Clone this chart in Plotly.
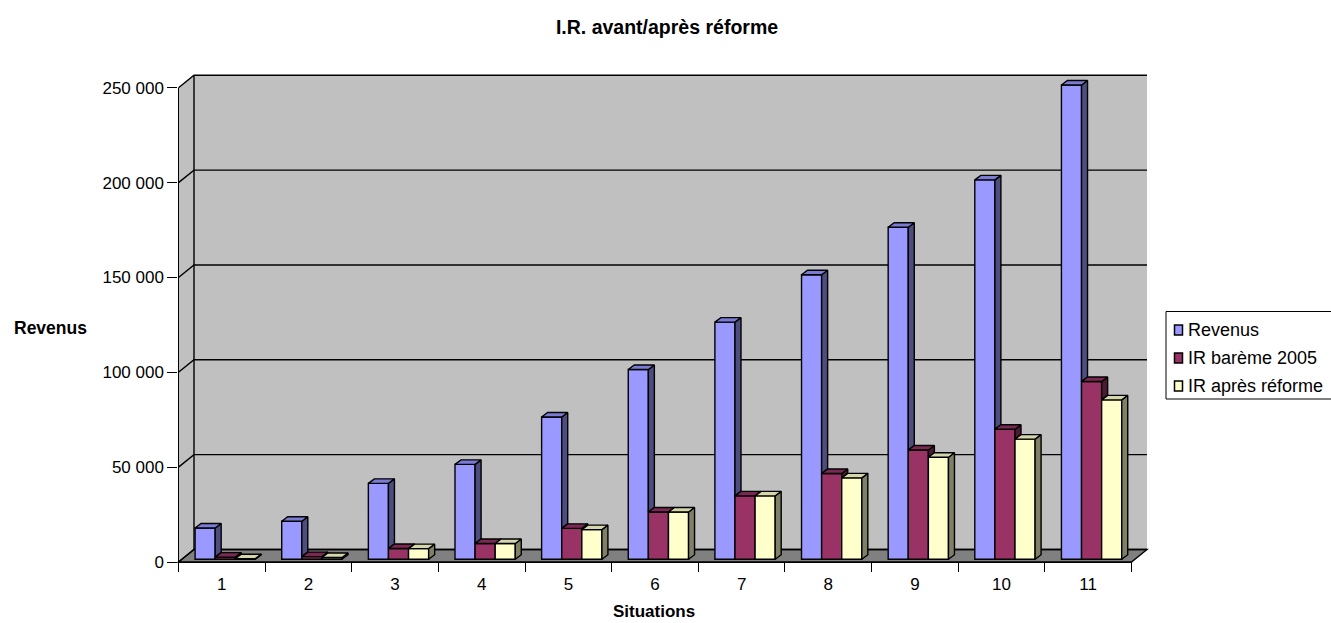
import plotly.graph_objects as go

# ---------------- data ----------------
situations = ["1", "2", "3", "4", "5", "6", "7", "8", "9", "10", "11"]
revenus = [16500, 20000, 40000, 50000, 75000, 100000, 125000, 150000, 175000, 200000, 250000]
ir_bareme_2005 = [1100, 1400, 5700, 8300, 16300, 24900, 33400, 45200, 57600, 68500, 93700]
ir_apres_reforme = [300, 900, 5600, 8300, 15600, 24900, 33400, 42900, 53800, 63300, 84000]
series_names = ["Revenus", "IR barème 2005", "IR après réforme"]
value_ticks = [0, 50000, 100000, 150000, 200000, 250000]

chart_title = "I.R. avant/après réforme"
x_title = "Situations"
y_title = "Revenus"

# ---------------- style ----------------
FONT = "Liberation Sans, Arial, sans-serif"
FRONT = ["#9999FF", "#993366", "#FFFFCC"]
TOP = ["#7B7BD6", "#7A2952", "#D6D6AB"]
SIDE = ["#4D4D80", "#4D1A33", "#808066"]
WALL = "#C0C0C0"
FLOOR = "#808080"
EDGE = 1.4

# ---------------- geometry (pixels) ----------------
W, H = 1331, 623
AX_X0, AX_X1 = 178.5, 1131.5          # front edge of the floor
AX_Y0 = 562.0                          # value 0 on the front axis
PX_PER_VAL = 1.897 / 1000
VMAX = value_ticks[-1]
DEPTH_DX, DEPTH_DY = 15.5, -12.5       # front edge -> back wall
BAR_PLANE = 0.22                       # depth fraction where bar fronts sit
BAR_DX, BAR_DY = 6.0, -4.5             # bar thickness in depth
BAR_W = 0.232                          # bar width in category units

n = len(situations)
CAT_PX = (AX_X1 - AX_X0) / n


def fx(xp):
    return xp / W


def fy(yp):
    return 1 - yp / H


def y_front(v):
    return AX_Y0 - v * PX_PER_VAL


def y_back(v):
    return y_front(v) + DEPTH_DY


# bar plane axes
bx_shift = BAR_PLANE * DEPTH_DX
by_shift = BAR_PLANE * DEPTH_DY
x_rng = [0.0, n + 1.0]
y_rng = [-20000, 270000]


def bar_x_px(u):
    return AX_X0 + bx_shift + (u - 0.5) * CAT_PX


def bar_y_px(v):
    return AX_Y0 + by_shift - v * PX_PER_VAL


fig = go.Figure()

series = [revenus, ir_bareme_2005, ir_apres_reforme]
xpos = list(range(1, n + 1))
offsets = [-1.5 * BAR_W, -0.5 * BAR_W, 0.5 * BAR_W]

# front faces
for k, vals in enumerate(series):
    fig.add_trace(go.Bar(
        x=xpos, y=vals, width=BAR_W, offset=offsets[k],
        name=series_names[k], showlegend=False,
        marker=dict(color=FRONT[k], line=dict(color="black", width=EDGE)),
        customdata=situations,
        hovertemplate="Situation %{customdata}<br>" + series_names[k] + " : %{y:,}<extra></extra>",
        xaxis="x", yaxis="y",
    ))

# top and side faces (oblique projection)
dxu = BAR_DX / CAT_PX
dyu = -BAR_DY / PX_PER_VAL
for k, vals in enumerate(series):
    tx, ty, sx, sy = [], [], [], []
    for i, v in enumerate(vals):
        x0 = xpos[i] + offsets[k]
        x1 = x0 + BAR_W
        tx += [x0, x1, x1 + dxu, x0 + dxu, x0, None]
        ty += [v, v, v + dyu, v + dyu, v, None]
        if k + 1 < len(series):
            low = series[k + 1][i]
            if low >= v:
                continue
        else:
            low = 0
        sx += [x1, x1, x1 + dxu, x1 + dxu, x1, None]
        sy += [low, v, v + dyu, low + dyu, low, None]
    fig.add_trace(go.Scatter(
        x=sx, y=sy, mode="lines", fill="toself", fillcolor=SIDE[k],
        line=dict(color="black", width=EDGE), hoverinfo="skip", showlegend=False,
        xaxis="x", yaxis="y",
    ))
    fig.add_trace(go.Scatter(
        x=tx, y=ty, mode="lines", fill="toself", fillcolor=TOP[k],
        line=dict(color="black", width=EDGE), hoverinfo="skip", showlegend=False,
        xaxis="x", yaxis="y",
    ))

# category axis carrier on the front axes
fig.add_trace(go.Scatter(
    x=situations, y=[0] * n, mode="markers", marker=dict(opacity=0),
    hoverinfo="skip", showlegend=False, xaxis="x2", yaxis="y2",
))

# ---------------- walls, floor and gridlines ----------------
shapes = []
bw0, bw1 = AX_X0 + DEPTH_DX, AX_X1 + DEPTH_DX


def path(points, close=True):
    d = "M " + " L ".join(f"{fx(a):.6f},{fy(b):.6f}" for a, b in points)
    return d + (" Z" if close else "")


shapes.append(dict(type="path", xref="paper", yref="paper", layer="below",
                   path=path([(bw0, y_back(0)), (bw1, y_back(0)), (bw1, y_back(VMAX)), (bw0, y_back(VMAX))]),
                   fillcolor=WALL, line=dict(width=0)))
shapes.append(dict(type="path", xref="paper", yref="paper", layer="below",
                   path=path([(AX_X0, y_front(0)), (AX_X0, y_front(VMAX)), (bw0, y_back(VMAX)), (bw0, y_back(0))]),
                   fillcolor=WALL, line=dict(width=0)))
shapes.append(dict(type="path", xref="paper", yref="paper", layer="below",
                   path=path([(AX_X0, y_front(0)), (AX_X1, y_front(0)), (bw1, y_back(0)), (bw0, y_back(0))]),
                   fillcolor=FLOOR, line=dict(color="black", width=EDGE)))
for t in value_ticks:
    shapes.append(dict(type="path", xref="paper", yref="paper", layer="below",
                       path=path([(AX_X0, y_front(t)), (bw0, y_back(t)), (bw1, y_back(t))], close=False),
                       line=dict(color="black", width=EDGE)))
shapes.append(dict(type="line", xref="paper", yref="paper", layer="below",
                   x0=fx(bw0), x1=fx(bw0), y0=fy(y_back(0)), y1=fy(y_back(VMAX)),
                   line=dict(color="black", width=EDGE)))

# ---------------- legend box ----------------
LEG_X0, LEG_Y0, LEG_Y1 = 1166, 311.5, 399
leg_rows = [330, 358, 386]
shapes.append(dict(type="rect", xref="paper", yref="paper",
                   x0=fx(LEG_X0), x1=fx(W + 10), y0=fy(LEG_Y1), y1=fy(LEG_Y0),
                   fillcolor="white", line=dict(color="black", width=1)))
annotations = []
for k, name in enumerate(series_names):
    yc = leg_rows[k]
    shapes.append(dict(type="rect", xref="paper", yref="paper",
                       x0=fx(1174.5), x1=fx(1182.5), y0=fy(yc + 5), y1=fy(yc - 5),
                       fillcolor=FRONT[k], line=dict(color="black", width=1.5)))
    annotations.append(dict(text=name, xref="paper", yref="paper", x=fx(1185.5), y=fy(yc),
                            xanchor="left", yanchor="middle", showarrow=False,
                            font=dict(family=FONT, size=18, color="black")))

annotations.append(dict(text=f"<b>{x_title}</b>", xref="paper", yref="paper", x=fx(654), y=fy(622),
                        xanchor="center", yanchor="bottom", showarrow=False, borderpad=0,
                        font=dict(family=FONT, size=17, color="black")))
annotations.append(dict(text=f"<b>{y_title}</b>", xref="paper", yref="paper", x=fx(51), y=fy(328),
                        xanchor="center", yanchor="middle", showarrow=False,
                        font=dict(family=FONT, size=17.5, color="black")))

axis_common = dict(automargin=False, fixedrange=True, showgrid=False, zeroline=False)

fig.update_layout(
    width=W, height=H,
    margin=dict(l=0, r=0, t=0, b=0, autoexpand=False),
    paper_bgcolor="white", plot_bgcolor="rgba(0,0,0,0)",
    separators=", ",
    barmode="overlay",
    showlegend=False,
    font=dict(family=FONT, size=17, color="black"),
    title=dict(text=f"<b>{chart_title}</b>", x=fx(667), y=fy(27), xref="paper", yref="paper",
               xanchor="center", yanchor="middle", font=dict(family=FONT, size=19.5, color="black")),
    xaxis=dict(domain=[fx(bar_x_px(x_rng[0])), fx(bar_x_px(x_rng[1]))], range=x_rng,
               visible=False, anchor="y", **axis_common),
    yaxis=dict(domain=[fy(bar_y_px(y_rng[0])), fy(bar_y_px(y_rng[1]))], range=y_rng,
               visible=False, anchor="x", **axis_common),
    xaxis2=dict(domain=[fx(AX_X0), fx(AX_X1)], type="category", range=[-0.5, n - 0.5],
                categoryorder="array", categoryarray=situations,
                anchor="y2", tickson="boundaries", ticks="outside", ticklen=9, tickwidth=EDGE,
                ticklabelstandoff=6,
                tickcolor="black", showline=True, linecolor="black", linewidth=EDGE,
                tickfont=dict(family=FONT, size=17, color="black"), **axis_common),
    yaxis2=dict(domain=[fy(y_front(0)), fy(y_front(VMAX))], range=[0, VMAX], anchor="x2",
                tickvals=value_ticks, tickformat=",", ticks="outside", ticklen=10, tickwidth=EDGE,
                tickcolor="black", showline=True, linecolor="black", linewidth=EDGE,
                tickfont=dict(family=FONT, size=17, color="black"), **axis_common),
    shapes=shapes,
    annotations=annotations,
)

fig.write_html("out.html")
